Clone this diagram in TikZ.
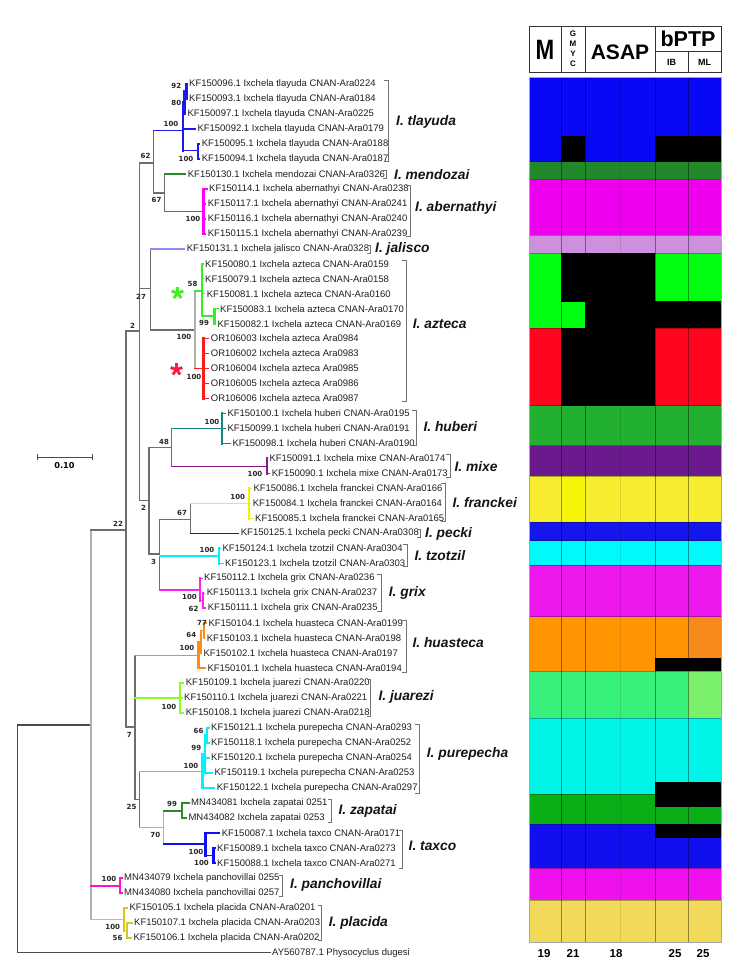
\documentclass[tikz,border=0pt]{standalone}
\usepackage{fontspec}
\setmainfont{Liberation Sans}
\newfontfamily\dvs{DejaVu Sans}
\newcommand\bootfnt{\dvs\bfseries\fontsize{7}{7}\selectfont}
\newcommand\specfnt{\bfseries\itshape\fontsize{13.8}{15}\selectfont}
\newcommand\tbv[4]{\draw[#1] (#2 |- #3) -- (#2 |- #4);}
\newcommand\tbl[3]{\draw[#1] (#2 |- #3) -- (#3.west);}
\newcommand\tbn[3]{\draw[#1] (#2 |- #3) -- (#3);}
\newcommand\brkt[3]{\draw[brk] (#1-4,#2) -- (#1,#2) -- (#1,#3) -- (#1-4,#3);}
\definecolor{cTla}{HTML}{1A1AEE}
\definecolor{cMen}{HTML}{2A8A2A}
\definecolor{cAbe}{HTML}{FF00FF}
\definecolor{cJal}{HTML}{8C8CFF}
\definecolor{cAzG}{HTML}{33EE22}
\definecolor{cAzR}{HTML}{FF1A1A}
\definecolor{cHub}{HTML}{1A8585}
\definecolor{cMix}{HTML}{8A1A8A}
\definecolor{cFra}{HTML}{F2F200}
\definecolor{cPec}{HTML}{1010DD}
\definecolor{cTzo}{HTML}{00F0FF}
\definecolor{cGri}{HTML}{FF22EE}
\definecolor{cHua}{HTML}{FF8C10}
\definecolor{cJua}{HTML}{88FF22}
\definecolor{cPur}{HTML}{00F2FF}
\definecolor{cZap}{HTML}{2A8A2A}
\definecolor{cTax}{HTML}{1010F0}
\definecolor{cPan}{HTML}{FF10CC}
\definecolor{cPla}{HTML}{D4C81E}
\definecolor{bkgray}{HTML}{6E6E6E}
\definecolor{ltgray}{HTML}{B0B0B0}
\definecolor{rtgray}{HTML}{4A4A4A}
\definecolor{pBlue}{HTML}{0808F5}
\definecolor{pDGreen}{HTML}{21892A}
\definecolor{pMag}{HTML}{EE00EE}
\definecolor{pLav}{HTML}{CC90DD}
\definecolor{pLime}{HTML}{00FF10}
\definecolor{pRed}{HTML}{FF061E}
\definecolor{pHub}{HTML}{22B030}
\definecolor{pPur}{HTML}{6A1A8C}
\definecolor{pYel}{HTML}{F8EC30}
\definecolor{pYelB}{HTML}{F5F50A}
\definecolor{pPec}{HTML}{1515EE}
\definecolor{pCya}{HTML}{00FAFA}
\definecolor{pGri}{HTML}{EE18EE}
\definecolor{pOra}{HTML}{FF9500}
\definecolor{pOraB}{HTML}{F5891A}
\definecolor{pJua}{HTML}{38F07C}
\definecolor{pJuaB}{HTML}{7AF06C}
\definecolor{pPure}{HTML}{00F5E8}
\definecolor{pZap}{HTML}{0AAF18}
\definecolor{pTax}{HTML}{1010EE}
\definecolor{pPan}{HTML}{EE11EE}
\definecolor{pPla}{HTML}{F2D95A}
\definecolor{astG}{HTML}{44EE22}
\definecolor{astR}{HTML}{FF1A3A}
\tikzset{
 leaf/.style={anchor=west, inner xsep=2pt, inner ysep=1pt, font=\fontsize{9.5}{11}\selectfont, text=black!88},
 boot/.style={font=\bootfnt, inner sep=0pt, text=black!85},
 spec/.style={anchor=west, inner sep=0pt, font=\specfnt, text=black!92},
 bk/.style={draw=bkgray, line width=1.1pt, line cap=rect},
 lt/.style={draw=ltgray, line width=1.2pt, line cap=rect},
 rt/.style={draw=rtgray, line width=1.1pt, line cap=rect},
 hc/.style={draw=#1, line width=1.5pt, line cap=rect},
 vc/.style={draw=#1, line width=2.4pt, line cap=rect},
 brk/.style={draw=black!55, line width=0.7pt},
 hdr/.style={inner sep=0pt, text=black},
}
\begin{document}
\begin{tikzpicture}[x=1pt,y=-1pt]
\useasboundingbox (0,0) rectangle (737,971);
\fill[white] (0,0) rectangle (737,971);

% ---------- leaves ----------
\node[leaf] (l1) at (187,84.0) {KF150096.1 Ixchela tlayuda CNAN-Ara0224};
\node[leaf] (l2) at (187,99.0) {KF150093.1 Ixchela tlayuda CNAN-Ara0184};
\node[leaf] (l3) at (185.3,114.0) {KF150097.1 Ixchela tlayuda CNAN-Ara0225};
\node[leaf] (l4) at (195.3,128.9) {KF150092.1 Ixchela tlayuda CNAN-Ara0179};
\node[leaf] (l5) at (199.7,143.9) {KF150095.1 Ixchela tlayuda CNAN-Ara0188};
\node[leaf] (l6) at (199.7,158.9) {KF150094.1 Ixchela tlayuda CNAN-Ara0187};
\node[leaf] (l7) at (185.7,173.9) {KF150130.1 Ixchela mendozai CNAN-Ara0326};
\node[leaf] (l8) at (207,188.9) {KF150114.1 Ixchela abernathyi CNAN-Ara0238};
\node[leaf] (l9) at (205.7,203.8) {KF150117.1 Ixchela abernathyi CNAN-Ara0241};
\node[leaf] (l10) at (205.7,218.8) {KF150116.1 Ixchela abernathyi CNAN-Ara0240};
\node[leaf] (l11) at (205.7,233.8) {KF150115.1 Ixchela abernathyi CNAN-Ara0239};
\node[leaf] (l12) at (184.7,248.8) {KF150131.1 Ixchela jalisco CNAN-Ara0328};
\node[leaf] (l13) at (203,263.8) {KF150080.1 Ixchela azteca CNAN-Ara0159};
\node[leaf] (l14) at (203,278.7) {KF150079.1 Ixchela azteca CNAN-Ara0158};
\node[leaf] (l15) at (204.7,293.7) {KF150081.1 Ixchela azteca CNAN-Ara0160};
\node[leaf] (l16) at (218,308.7) {KF150083.1 Ixchela azteca CNAN-Ara0170};
\node[leaf] (l17) at (215.3,323.7) {KF150082.1 Ixchela azteca CNAN-Ara0169};
\node[leaf] (l18) at (208.7,338.6) {OR106003 Ixchela azteca Ara0984};
\node[leaf] (l19) at (208.7,353.6) {OR106002 Ixchela azteca Ara0983};
\node[leaf] (l20) at (208.7,368.6) {OR106004 Ixchela azteca Ara0985};
\node[leaf] (l21) at (208.7,383.6) {OR106005 Ixchela azteca Ara0986};
\node[leaf] (l22) at (208.7,398.6) {OR106006 Ixchela azteca Ara0987};
\node[leaf] (l23) at (225.3,413.5) {KF150100.1 Ixchela huberi CNAN-Ara0195};
\node[leaf] (l24) at (225.3,428.5) {KF150099.1 Ixchela huberi CNAN-Ara0191};
\node[leaf] (l25) at (230.3,443.5) {KF150098.1 Ixchela huberi CNAN-Ara0190};
\node[leaf] (l26) at (267.3,458.5) {KF150091.1 Ixchela mixe CNAN-Ara0174};
\node[leaf] (l27) at (269.7,473.4) {KF150090.1 Ixchela mixe CNAN-Ara0173};
\node[leaf] (l28) at (251.3,488.4) {KF150086.1 Ixchela franckei CNAN-Ara0166};
\node[leaf] (l29) at (250.7,503.4) {KF150084.1 Ixchela franckei CNAN-Ara0164};
\node[leaf] (l30) at (253,518.4) {KF150085.1 Ixchela franckei CNAN-Ara0165};
\node[leaf] (l31) at (238.7,533.4) {KF150125.1 Ixchela pecki CNAN-Ara0308};
\node[leaf] (l32) at (220.3,548.3) {KF150124.1 Ixchela tzotzil CNAN-Ara0304};
\node[leaf] (l33) at (223,563.3) {KF150123.1 Ixchela tzotzil CNAN-Ara0303};
\node[leaf] (l34) at (202,578.3) {KF150112.1 Ixchela grix CNAN-Ara0236};
\node[leaf] (l35) at (204.7,593.3) {KF150113.1 Ixchela grix CNAN-Ara0237};
\node[leaf] (l36) at (205.7,608.2) {KF150111.1 Ixchela grix CNAN-Ara0235};
\node[leaf] (l37) at (206.3,623.2) {KF150104.1 Ixchela huasteca CNAN-Ara0199};
\node[leaf] (l38) at (204.7,638.2) {KF150103.1 Ixchela huasteca CNAN-Ara0198};
\node[leaf] (l39) at (201.3,653.2) {KF150102.1 Ixchela huasteca CNAN-Ara0197};
\node[leaf] (l40) at (205.3,668.2) {KF150101.1 Ixchela huasteca CNAN-Ara0194};
\node[leaf] (l41) at (183.7,683.1) {KF150109.1 Ixchela juarezi CNAN-Ara0220};
\node[leaf] (l42) at (182,698.1) {KF150110.1 Ixchela juarezi CNAN-Ara0221};
\node[leaf] (l43) at (183.7,713.1) {KF150108.1 Ixchela juarezi CNAN-Ara0218};
\node[leaf] (l44) at (209,728.1) {KF150121.1 Ixchela purepecha CNAN-Ara0293};
\node[leaf] (l45) at (209,743.1) {KF150118.1 Ixchela purepecha CNAN-Ara0252};
\node[leaf] (l46) at (209,758.0) {KF150120.1 Ixchela purepecha CNAN-Ara0254};
\node[leaf] (l47) at (212.3,773.0) {KF150119.1 Ixchela purepecha CNAN-Ara0253};
\node[leaf] (l48) at (214.7,788.0) {KF150122.1 Ixchela purepecha CNAN-Ara0297};
\node[leaf] (l49) at (189,803.0) {MN434081 Ixchela zapatai 0251};
\node[leaf] (l50) at (186.3,817.9) {MN434082 Ixchela zapatai 0253};
\node[leaf] (l51) at (219.6,832.9) {KF150087.1 Ixchela taxco CNAN-Ara0171};
\node[leaf] (l52) at (215,847.9) {KF150089.1 Ixchela taxco CNAN-Ara0273};
\node[leaf] (l53) at (215,862.9) {KF150088.1 Ixchela taxco CNAN-Ara0271};
\node[leaf] (l54) at (122,877.9) {MN434079 Ixchela panchovillai 0255};
\node[leaf] (l55) at (122,892.8) {MN434080 Ixchela panchovillai 0257};
\node[leaf] (l56) at (127.3,907.8) {KF150105.1 Ixchela placida CNAN-Ara0201};
\node[leaf] (l57) at (132,922.8) {KF150107.1 Ixchela placida CNAN-Ara0203};
\node[leaf] (l58) at (131.3,937.8) {KF150106.1 Ixchela placida CNAN-Ara0202};
\node[leaf] (l59) at (270,952.8) {AY560787.1 Physocyclus dugesi};

% ---------- internal nodes ----------
\coordinate (R0) at (17.7,839);
\coordinate (A) at (91,725);
\coordinate (B) at (126,530);
\coordinate (E) at (139.5,331);
\coordinate (N62) at (153.3,163);
\coordinate (X0) at (182.7,130.7);
\coordinate (X1) at (184.6,102.3);
\coordinate (X2) at (186.5,91.5);
\coordinate (X3) at (197.7,150.7);
\coordinate (MA) at (164.3,193);
\coordinate (AB) at (203.3,211.5);
\coordinate (F) at (150.7,288.5);
\coordinate (G) at (195,330);
\coordinate (H) at (201.7,291);
\coordinate (J) at (214.5,316.2);
\coordinate (I) at (203.3,368.6);
\coordinate (K) at (149,500.7);
\coordinate (L) at (171.7,447.7);
\coordinate (HU) at (221.7,428.5);
\coordinate (MX) at (266.7,466.7);
\coordinate (M) at (159.3,554);
\coordinate (N) at (190.7,519.3);
\coordinate (FR) at (249,503.4);
\coordinate (TZ) at (219,556);
\coordinate (GR) at (200,590);
\coordinate (GR2) at (203,600.7);
\coordinate (D) at (135,727);
\coordinate (HQ) at (198.3,655.7);
\coordinate (Q) at (201,641.7);
\coordinate (R) at (204,630.7);
\coordinate (JU) at (180,698.1);
\coordinate (O) at (139.3,799.3);
\coordinate (PU0) at (202.3,771.7);
\coordinate (PU1) at (205,754);
\coordinate (PU2) at (207,735.6);
\coordinate (S) at (163.3,827.7);
\coordinate (ZA) at (181.7,811);
\coordinate (T) at (205.5,844);
\coordinate (U) at (213.6,855.4);
\coordinate (PA) at (120,886);
\coordinate (V) at (124,919.3);
\coordinate (W) at (127,930.3);

% ---------- branches ----------
\tbv{rt}{R0}{A}{l59}
\tbn{rt}{R0}{A}
\tbl{rt}{R0}{l59}
\tbv{lt}{A}{B}{V}
\tbn{bk}{A}{B}
\tbn{hc=cPan}{A}{PA}
\tbn{hc=cPla}{A}{V}
\tbv{vc=cPan}{PA}{l54}{l55}
\tbl{hc=cPan}{PA}{l54}
\tbl{hc=cPan}{PA}{l55}
\tbv{vc=cPla}{V}{l56}{W}
\tbl{hc=cPla}{V}{l56}
\tbn{hc=cPla}{V}{W}
\tbv{vc=cPla}{W}{l57}{l58}
\tbl{hc=cPla}{W}{l57}
\tbl{hc=cPla}{W}{l58}
\tbv{bk}{B}{E}{D}
\tbn{bk}{B}{E}
\tbn{bk}{B}{D}
\tbv{bk}{E}{N62}{K}
\tbn{bk}{E}{N62}
\tbn{bk}{E}{F}
\tbn{bk}{E}{K}
\tbv{bk}{N62}{X0}{MA}
\tbn{hc=cTla}{N62}{X0}
\tbn{bk}{N62}{MA}
\tbv{vc=cTla}{X0}{X1}{X3}
\tbn{hc=cTla}{X0}{X1}
\tbl{hc=cTla}{X0}{l4}
\tbn{hc=cTla}{X0}{X3}
\tbv{vc=cTla}{X1}{X2}{l3}
\tbn{hc=cTla}{X1}{X2}
\tbl{hc=cTla}{X1}{l3}
\tbv{vc=cTla}{X2}{l1}{l2}
\tbl{hc=cTla}{X2}{l1}
\tbl{hc=cTla}{X2}{l2}
\tbv{vc=cTla}{X3}{l5}{l6}
\tbl{hc=cTla}{X3}{l5}
\tbl{hc=cTla}{X3}{l6}
\tbv{bk}{MA}{l7}{AB}
\tbl{hc=cMen}{MA}{l7}
\tbn{hc=cAbe}{MA}{AB}
\tbv{vc=cAbe}{AB}{l8}{l11}
\tbl{hc=cAbe}{AB}{l8}
\tbl{hc=cAbe}{AB}{l9}
\tbl{hc=cAbe}{AB}{l10}
\tbl{hc=cAbe}{AB}{l11}
\tbv{bk}{F}{l12}{G}
\tbl{hc=cJal}{F}{l12}
\tbn{bk}{F}{G}
\tbv{lt}{G}{H}{I}
\tbn{hc=cAzG}{G}{H}
\tbn{hc=cAzR}{G}{I}
\tbv{vc=cAzG}{H}{l13}{J}
\tbl{hc=cAzG}{H}{l13}
\tbl{hc=cAzG}{H}{l14}
\tbl{hc=cAzG}{H}{l15}
\tbn{hc=cAzG}{H}{J}
\tbv{vc=cAzG}{J}{l16}{l17}
\tbl{hc=cAzG}{J}{l16}
\tbl{hc=cAzG}{J}{l17}
\tbv{vc=cAzR}{I}{l18}{l22}
\tbl{hc=cAzR}{I}{l18}
\tbl{hc=cAzR}{I}{l19}
\tbl{hc=cAzR}{I}{l20}
\tbl{hc=cAzR}{I}{l21}
\tbl{hc=cAzR}{I}{l22}
\tbv{bk}{K}{L}{M}
\tbn{bk}{K}{L}
\tbn{bk}{K}{M}
\tbv{bk}{L}{HU}{MX}
\tbn{hc=cHub}{L}{HU}
\tbn{hc=cMix}{L}{MX}
\tbv{vc=cHub}{HU}{l23}{l25}
\tbl{hc=cHub}{HU}{l23}
\tbl{hc=cHub}{HU}{l24}
\tbl{hc=cHub}{HU}{l25}
\tbv{vc=cMix}{MX}{l26}{l27}
\tbl{hc=cMix}{MX}{l26}
\tbl{hc=cMix}{MX}{l27}
\tbv{bk}{M}{N}{GR}
\tbn{bk}{M}{N}
\tbn{hc=cTzo}{M}{TZ}
\tbn{hc=cGri}{M}{GR}
\tbv{bk}{N}{FR}{l31}
\tbn{hc=cFra}{N}{FR}
\tbl{hc=cPec}{N}{l31}
\tbv{vc=cFra}{FR}{l28}{l30}
\tbl{hc=cFra}{FR}{l28}
\tbl{hc=cFra}{FR}{l29}
\tbl{hc=cFra}{FR}{l30}
\tbv{vc=cTzo}{TZ}{l32}{l33}
\tbl{hc=cTzo}{TZ}{l32}
\tbl{hc=cTzo}{TZ}{l33}
\tbv{vc=cGri}{GR}{l34}{GR2}
\tbl{hc=cGri}{GR}{l34}
\tbn{hc=cGri}{GR}{GR2}
\tbv{vc=cGri}{GR2}{l35}{l36}
\tbl{hc=cGri}{GR2}{l35}
\tbl{hc=cGri}{GR2}{l36}
\tbv{bk}{D}{HQ}{O}
\tbn{hc=cHua}{D}{HQ}
\tbn{hc=cJua}{D}{JU}
\tbn{bk}{D}{O}
\tbv{vc=cHua}{HQ}{Q}{l40}
\tbn{hc=cHua}{HQ}{Q}
\tbl{hc=cHua}{HQ}{l40}
\tbv{vc=cHua}{Q}{R}{l39}
\tbn{hc=cHua}{Q}{R}
\tbl{hc=cHua}{Q}{l39}
\tbv{vc=cHua}{R}{l37}{l38}
\tbl{hc=cHua}{R}{l37}
\tbl{hc=cHua}{R}{l38}
\tbv{vc=cJua}{JU}{l41}{l43}
\tbl{hc=cJua}{JU}{l41}
\tbl{hc=cJua}{JU}{l42}
\tbl{hc=cJua}{JU}{l43}
\tbv{bk}{O}{PU0}{S}
\tbn{hc=cPur}{O}{PU0}
\tbn{lt}{O}{S}
\tbv{vc=cPur}{PU0}{PU1}{l48}
\tbn{hc=cPur}{PU0}{PU1}
\tbl{hc=cPur}{PU0}{l48}
\tbv{vc=cPur}{PU1}{PU2}{l47}
\tbn{hc=cPur}{PU1}{PU2}
\tbl{hc=cPur}{PU1}{l46}
\tbl{hc=cPur}{PU1}{l47}
\tbv{vc=cPur}{PU2}{l44}{l45}
\tbl{hc=cPur}{PU2}{l44}
\tbl{hc=cPur}{PU2}{l45}
\tbv{lt}{S}{ZA}{T}
\tbn{hc=cZap}{S}{ZA}
\tbn{hc=cTax}{S}{T}
\tbv{vc=cZap}{ZA}{l49}{l50}
\tbl{hc=cZap}{ZA}{l49}
\tbl{hc=cZap}{ZA}{l50}
\tbv{vc=cTax}{T}{l51}{U}
\tbl{hc=cTax}{T}{l51}
\tbn{hc=cTax}{T}{U}
\tbv{vc=cTax}{U}{l52}{l53}
\tbl{hc=cTax}{U}{l52}
\tbl{hc=cTax}{U}{l53}

% ---------- support values ----------
\node[boot] (b1) at (176.3,85.7) {92};
\node[boot] (b2) at (176.3,103.3) {80};
\node[boot] (b3) at (171,124.3) {100};
\node[boot] (b4) at (186,159.3) {100};
\node[boot] (b5) at (145.5,156) {62};
\node[boot] (b6) at (156.5,200) {67};
\node[boot] (b7) at (193,219.3) {100};
\node[boot] (b8) at (141,297) {27};
\node[boot] (b9) at (192.5,284) {58};
\node[boot] (b10) at (204,322.7) {99};
\node[boot] (b11) at (184,337) {100};
\node[boot] (b12) at (194,376.7) {100};
\node[boot] (b13) at (132.5,326) {2};
\node[boot] (b14) at (212,422) {100};
\node[boot] (b15) at (164,442) {48};
\node[boot] (b16) at (255,474) {100};
\node[boot] (b17) at (143.5,508) {2};
\node[boot] (b18) at (237.7,497.3) {100};
\node[boot] (b19) at (182,512.7) {67};
\node[boot] (b20) at (153.5,561.7) {3};
\node[boot] (b21) at (207,550) {100};
\node[boot] (b22) at (189.5,596.7) {100};
\node[boot] (b23) at (193.5,609) {62};
\node[boot] (b24) at (118,524) {22};
\node[boot] (b25) at (202,623.3) {77};
\node[boot] (b26) at (191.3,635) {64};
\node[boot] (b27) at (187,648.3) {100};
\node[boot] (b28) at (169,706.7) {100};
\node[boot] (b29) at (129.3,735) {7};
\node[boot] (b30) at (198.5,730.7) {66};
\node[boot] (b31) at (196.3,748.3) {99};
\node[boot] (b32) at (191,765.7) {100};
\node[boot] (b33) at (131.5,806.7) {25};
\node[boot] (b34) at (172,804) {99};
\node[boot] (b35) at (155.3,835) {70};
\node[boot] (b36) at (196,852.3) {100};
\node[boot] (b37) at (201.5,863.3) {100};
\node[boot] (b38) at (109,879.3) {100};
\node[boot] (b39) at (112.7,926.7) {100};
\node[boot] (b40) at (117.5,938.3) {56};

% ---------- asterisks ----------
\coordinate (aG) at (177.5,293);
\coordinate (aR) at (176.5,369.5);
\foreach \a in {270,342,54,126,198}{
  \draw[astG, line width=2.8pt] (aG) -- ++(\a:6.2);
  \draw[astR, line width=2.8pt] (aR) -- ++(\a:6.2);
}

% ---------- brackets ----------
\brkt{388.3}{80}{161.7}
\brkt{386.7}{170}{178}
\brkt{410}{185}{236.7}
\brkt{370.7}{245}{253.3}
\brkt{406}{260}{401.7}
\brkt{416}{410.7}{445}
\brkt{450}{454}{477.3}
\brkt{445}{483.3}{521.7}
\brkt{420.7}{529}{537.3}
\brkt{407.3}{544}{566.7}
\brkt{381}{574}{611.7}
\brkt{406}{620}{672.3}
\brkt{370.7}{679.3}{716}
\brkt{419}{724.3}{793.3}
\brkt{331.7}{799.3}{822.7}
\brkt{402.8}{830}{868.3}
\brkt{282.6}{875}{896.7}
\brkt{321.6}{905}{940.7}

% ---------- species names ----------
\node[spec] (sTla) at (396,121.7) {I. tlayuda};
\node[spec] (sMen) at (394,174.3) {I. mendozai};
\node[spec] (sAbe) at (415,208.3) {I. abernathyi};
\node[spec] (sJal) at (375,249) {I. jalisco};
\node[spec] (sAzt) at (412.7,324) {I. azteca};
\node[spec] (sHub) at (423.3,426.7) {I. huberi};
\node[spec] (sMix) at (454.3,466.7) {I. mixe};
\node[spec] (sFra) at (452.3,502.3) {I. franckei};
\node[spec] (sPec) at (425,534) {I. pecki};
\node[spec] (sTzo) at (414.3,556) {I. tzotzil};
\node[spec] (sGri) at (388.7,593.3) {I. grix};
\node[spec] (sHua) at (412.3,643) {I. huasteca};
\node[spec] (sJua) at (378.3,697.3) {I. juarezi};
\node[spec] (sPur) at (426.7,754) {I. purepecha};
\node[spec] (sZap) at (338.3,810.7) {I. zapatai};
\node[spec] (sTax) at (408.5,845.7) {I. taxco};
\node[spec] (sPan) at (290,885) {I. panchovillai};
\node[spec] (sPla) at (328.6,923.3) {I. placida};

% ---------- scale bar ----------
\coordinate (sb1) at (37.3,457.3);
\coordinate (sb2) at (92.3,457.3);
\draw[rtgray, line width=1pt] (sb1) -- (sb2);
\draw[rtgray, line width=1pt] (sb1) ++(0,-3) -- ++(0,6);
\draw[rtgray, line width=1pt] (sb2) ++(0,-3) -- ++(0,6);
\node[font=\dvs\bfseries\fontsize{8.2}{9}\selectfont, inner sep=0pt] (sbl) at (64.5,466) {0.10};

% ---------- delimitation panel ----------
\fill[pBlue] (529,77.3) rectangle (721,161.7);
\fill[black] (561,136) rectangle (585,161.7);
\fill[black] (655,136) rectangle (721,161.7);
\fill[pDGreen] (529,161.7) rectangle (721,179);
\fill[pMag] (529,179) rectangle (721,235);
\fill[pLav] (529,235) rectangle (721,253.3);
\fill[pLime] (529,253.3) rectangle (721,328.3);
\fill[black] (561,253.3) rectangle (585,302.3);
\fill[black] (585,253.3) rectangle (655,328.3);
\fill[black] (655,301) rectangle (721,328.3);
\fill[pRed] (529,328.3) rectangle (721,405.7);
\fill[black] (561,328.3) rectangle (655,405.7);
\fill[pHub] (529,405.7) rectangle (721,445.7);
\fill[pPur] (529,445.7) rectangle (721,476);
\fill[pYel] (529,476) rectangle (721,522.3);
\fill[pYelB] (561,476) rectangle (585,522.3);
\fill[pPec] (529,522.3) rectangle (721,540.7);
\fill[pCya] (529,540.7) rectangle (721,565);
\fill[pGri] (529,565) rectangle (721,616.7);
\fill[pOra] (529,616.7) rectangle (721,671);
\fill[pOraB] (688.3,616.7) rectangle (721,671);
\fill[black] (655,658.3) rectangle (721,671);
\fill[pJua] (529,671) rectangle (721,718.3);
\fill[pJuaB] (688.3,671) rectangle (721,718.3);
\fill[pPure] (529,718.3) rectangle (721,794.3);
\fill[black] (655,781.7) rectangle (721,794.3);
\fill[pZap] (529,794.3) rectangle (721,824.3);
\fill[black] (655,794.3) rectangle (721,806.7);
\fill[pTax] (529,824.3) rectangle (721,868.3);
\fill[black] (655,824.3) rectangle (721,837.7);
\fill[pPan] (529,868.3) rectangle (721,900);
\fill[pPla] (529,900) rectangle (721,942.3);
\foreach \cx in {561,585,655,688.3}{
  \draw[black, opacity=0.4, line width=0.6pt] (\cx,77.3) -- (\cx,942.3);
}
\draw[black, opacity=0.1, line width=0.5pt] (620,77.3) -- (620,942.3);
\foreach \ry in {161.7,179,235,253.3,328.3,405.7,445.7,476,522.3,540.7,565,616.7,671,718.3,794.3,824.3,868.3,900}{
  \draw[black, opacity=0.3, line width=0.5pt] (529,\ry) -- (721,\ry);
}
\draw[black!35, line width=0.8pt] (529,77.3) rectangle (721,942.3);

% header
\draw[black!80, line width=0.8pt] (529,26) rectangle (721,72.5);
\draw[black!80, line width=0.8pt] (561,26) -- (561,72.5);
\draw[black!80, line width=0.8pt] (585,26) -- (585,72.5);
\draw[black!80, line width=0.8pt] (655,26) -- (655,72.5);
\draw[black!80, line width=0.8pt] (655,51.7) -- (721,51.7);
\draw[black!80, line width=0.8pt] (688.3,51.7) -- (688.3,72.5);
\node[hdr, font=\bfseries\fontsize{28}{28}\selectfont, xscale=0.8] (hM) at (545,49.5) {M};
\node[hdr, font=\bfseries\fontsize{8}{10}\selectfont, align=center] (hG) at (573,48.5) {G\\M\\Y\\C};
\node[hdr, font=\bfseries\fontsize{21}{21}\selectfont] (hA) at (620,52) {ASAP};
\node[hdr, font=\bfseries\fontsize{21.5}{21.5}\selectfont] (hB) at (688,39) {bPTP};
\node[hdr, font=\bfseries\fontsize{9}{9}\selectfont] (hI) at (671.5,62.5) {IB};
\node[hdr, font=\bfseries\fontsize{9}{9}\selectfont] (hL) at (704.7,62.5) {ML};

% counts
\node[hdr, font=\bfseries\fontsize{11.5}{12}\selectfont, anchor=base] (n1) at (544,957) {19};
\node[hdr, font=\bfseries\fontsize{11.5}{12}\selectfont, anchor=base] (n2) at (573,957) {21};
\node[hdr, font=\bfseries\fontsize{11.5}{12}\selectfont, anchor=base] (n3) at (616,957) {18};
\node[hdr, font=\bfseries\fontsize{11.5}{12}\selectfont, anchor=base] (n4) at (675,957) {25};
\node[hdr, font=\bfseries\fontsize{11.5}{12}\selectfont, anchor=base] (n5) at (703,957) {25};
\end{tikzpicture}
\end{document}
